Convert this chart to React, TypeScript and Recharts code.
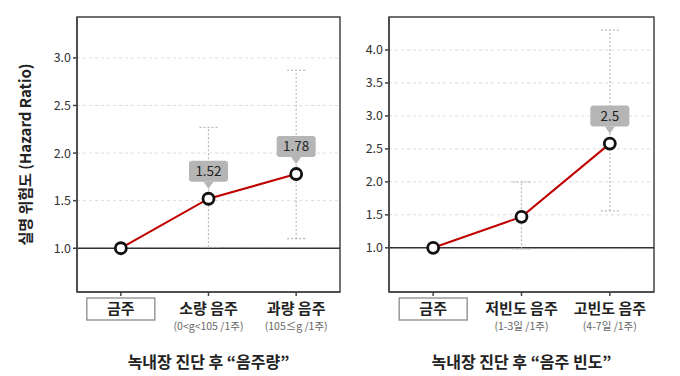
import {
  LineChart,
  Line,
  XAxis,
  YAxis,
  CartesianGrid,
  ReferenceLine,
  ReferenceArea,
  ErrorBar,
  LabelList
} from 'recharts'

const FONT = '"Noto Sans CJK KR", "Noto Sans", sans-serif'

// 음주량 panel
const amountCats = ['금주', '소량 음주', '과량 음주']
const amountSubs = ['', '(0<g<105 /1주)', '(105≤g /1주)']
const amountHR = [1.0, 1.52, 1.78]
const amountLow = [1.0, 1.01, 1.1]
const amountHigh = [1.0, 2.27, 2.87]
const amountLabels = ['', '1.52', '1.78']
const amountTicks = [1.0, 1.5, 2.0, 2.5, 3.0]

// 음주 빈도 panel
const freqCats = ['금주', '저빈도 음주', '고빈도 음주']
const freqSubs = ['', '(1-3일 /1주)', '(4-7일 /1주)']
const freqHR = [1.0, 1.47, 2.58]
const freqLow = [1.0, 0.98, 1.56]
const freqHigh = [1.0, 2.0, 4.3]
const freqLabels = ['', '', '2.5']
const freqTicks = [1.0, 1.5, 2.0, 2.5, 3.0, 3.5, 4.0]

const buildData = (cats: string[], hr: number[], low: number[], high: number[], labels: string[]) =>
  cats.map((name, i) => ({
    name,
    hr: hr[i],
    err: i === 0 ? null : [hr[i] - low[i], high[i] - hr[i]],
    label: labels[i]
  }))

const Callout = (props: any) => {
  const x = props.viewBox?.x ?? props.x
  const y = props.viewBox?.y ?? props.y
  const { value } = props
  if (!value) return null
  const w = 39
  const h = 21
  const bottom = y - 17
  return (
    <g>
      <rect x={x - w / 2} y={bottom - h} width={w} height={h} rx={3} fill="#b5b5b5" />
      <path d={`M${x - 5},${bottom} L${x + 5},${bottom} L${x},${bottom + 7} Z`} fill="#b5b5b5" />
      <text x={x} y={bottom - h / 2} dy="0.36em" textAnchor="middle" fontSize={13.5}
        fill="#222" fontFamily={FONT}>{value}</text>
    </g>
  )
}

const makeTick = (cats: string[], subs: string[]) => (props: any) => {
  const { x, y, payload } = props
  const i = cats.indexOf(payload.value)
  return (
    <g>
      {i === 0 && (
        <rect x={x - 34} y={y} width={68} height={22} fill="#fff" stroke="#8a8a8a" strokeWidth={1.3} />
      )}
      <text x={x} y={y + 10.5} dy="0.36em" textAnchor="middle" fontSize={15} fontWeight={700}
        fill="#222" fontFamily={FONT}>{payload.value}</text>
      {subs[i] && (
        <text x={x} y={y + 28} dy="0.36em" textAnchor="middle" fontSize={10.5}
          fill="#666" fontFamily={FONT}>{subs[i]}</text>
      )}
    </g>
  )
}

const YTitle = (props: any) => {
  const vb = props.viewBox
  const cx = 26
  const cy = vb.y + vb.height / 2
  return (
    <text x={cx} y={cy} transform={`rotate(-90 ${cx} ${cy})`} textAnchor="middle" dy="0.36em"
      fontSize={15} fontWeight={700} fill="#222" fontFamily={FONT}>
      실명 위험도 (Hazard Ratio)
    </text>
  )
}

interface PanelProps {
  cats: string[]
  subs: string[]
  hr: number[]
  low: number[]
  high: number[]
  labels: string[]
  ticks: number[]
  domain: [number, number]
  title: string
  width: number
  margin: { top: number; right: number; left: number; bottom: number }
  yWidth: number
  showYTitle?: boolean
}

const Panel = ({ cats, subs, hr, low, high, labels, ticks, domain, title, width, margin, yWidth, showYTitle }: PanelProps) => {
  const data = buildData(cats, hr, low, high, labels)
  const axisColor = '#444'
  return (
    <LineChart width={width} height={376} data={data} margin={margin}>
      <CartesianGrid vertical={false} stroke="#dcdcdc" strokeDasharray="3 3" />
      <XAxis
        dataKey="name"
        scale="band"
        height={84}
        stroke={axisColor}
        strokeWidth={1.5}
        tickSize={4}
        tickMargin={2}
        interval={0}
        tick={makeTick(cats, subs)}
        label={{
          value: title,
          position: 'insideBottom',
          offset: 8,
          style: { fontSize: 16, fontWeight: 700, fill: '#222', fontFamily: FONT }
        }}
      />
      <YAxis
        domain={domain}
        ticks={ticks}
        allowDataOverflow
        width={yWidth}
        stroke={axisColor}
        strokeWidth={1.5}
        tickSize={4}
        tickFormatter={(v: number) => v.toFixed(1)}
        tick={{ fontSize: 12.5, fill: '#333', fontFamily: FONT }}
        label={showYTitle ? <YTitle /> : undefined}
      />
      <ReferenceArea y1={domain[0]} y2={domain[1]} fill="none" stroke={axisColor} strokeWidth={1.5}
        ifOverflow="visible" />
      <ReferenceLine y={1} stroke="#333" strokeWidth={1.5} />
      <Line dataKey="hr" stroke="none" dot={false} isAnimationActive={false} activeDot={false}>
        <ErrorBar dataKey="err" width={9} stroke="#b8b8b8" strokeWidth={1.2} strokeDasharray="2 2" />
      </Line>
      <Line
        dataKey="hr"
        stroke="#c00000"
        strokeWidth={2}
        isAnimationActive={false}
        dot={{ r: 5.5, fill: '#fff', stroke: '#111', strokeWidth: 2.8 }}
        activeDot={false}
      >
        <LabelList dataKey="label" content={<Callout />} />
      </Line>
    </LineChart>
  )
}

export default function App() {
  return (
    <div style={{ position: 'absolute', left: 0, top: 0, width: 680, height: 376, background: '#fff', fontFamily: FONT }}>
      <div style={{ position: 'absolute', left: 0, top: 0 }}>
        <Panel
          cats={amountCats}
          subs={amountSubs}
          hr={amountHR}
          low={amountLow}
          high={amountHigh}
          labels={amountLabels}
          ticks={amountTicks}
          domain={[0.54, 3.43]}
          title="녹내장 진단 후 “음주량”"
          width={345}
          margin={{ top: 17, right: 5, left: 0, bottom: 0 }}
          yWidth={77}
          showYTitle
        />
      </div>
      <div style={{ position: 'absolute', left: 345, top: 0 }}>
        <Panel
          cats={freqCats}
          subs={freqSubs}
          hr={freqHR}
          low={freqLow}
          high={freqHigh}
          labels={freqLabels}
          ticks={freqTicks}
          domain={[0.33, 4.5]}
          title="녹내장 진단 후 “음주 빈도”"
          width={335}
          margin={{ top: 17, right: 26, left: 4, bottom: 0 }}
          yWidth={40}
        />
      </div>
    </div>
  )
}
